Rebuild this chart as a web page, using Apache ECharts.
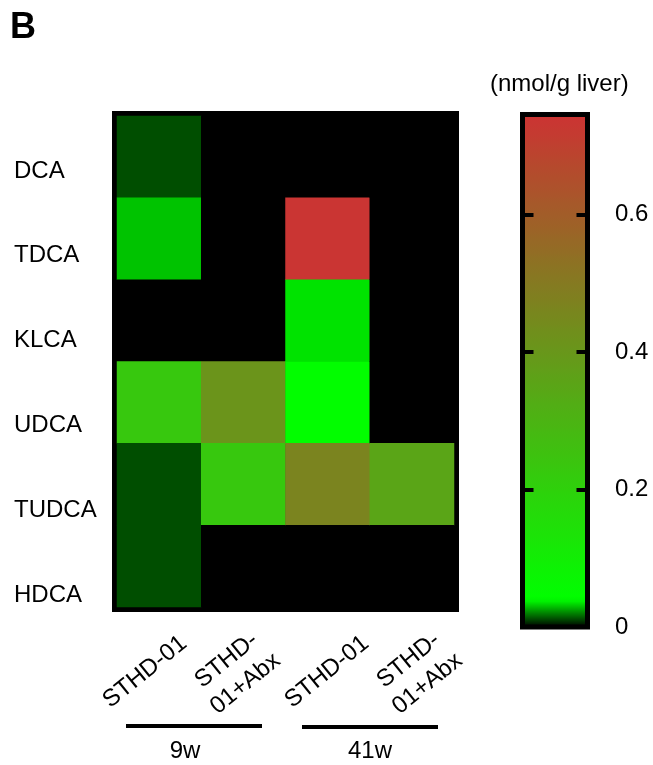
<!DOCTYPE html>
<html>
<head>
<meta charset="utf-8">
<script src="https://cdn.jsdelivr.net/npm/echarts@6/dist/echarts.min.js"></script>
<style>
html,body{margin:0;padding:0;background:#fff;}
#chart{width:653px;height:765px;}
</style>
</head>
<body>
<div id="chart"></div>
<script>
// ---- data ----
const panelLabel = 'B';
const unitLabel = '(nmol/g liver)';
const rowLabels = ['DCA', 'TDCA', 'KLCA', 'UDCA', 'TUDCA', 'HDCA'];
const colLabels = ['STHD-01', 'STHD-\n01+Abx', 'STHD-01', 'STHD-\n01+Abx'];
const groupLabels = ['9w', '41w'];
// values per column (rows in rowLabels order), nmol/g liver
const sthd9w    = [0.012, 0.030, 0.000, 0.230, 0.012, 0.012];
const sthdAbx9w = [0.000, 0.000, 0.000, 0.410, 0.230, 0.000];
const sthd41w   = [0.000, 0.740, 0.035, 0.045, 0.465, 0.000];
const sthdAbx41w= [0.000, 0.000, 0.000, 0.000, 0.350, 0.000];
const scaleMin = 0;
const scaleMax = 0.746;
const scaleStep = 0.2;

// ---- build ----
const columns = [sthd9w, sthdAbx9w, sthd41w, sthdAbx41w];
const heatData = [];
columns.forEach((col, c) => col.forEach((v, r) => heatData.push([c, r, v])));

// colour ramp: black -> bright green at first stop, then linear green -> red
function hex(n){ return ('0' + Math.round(n).toString(16)).slice(-2); }
const ramp = ['#000000'];
const segs = 18;
for (let i = 0; i <= segs; i++) {
  const t = i / segs;
  ramp.push('#' + hex(0 + t * 204) + hex(255 - t * 204) + hex(0 + t * 51));
}

const FONT = "'Liberation Sans', Arial, Helvetica, sans-serif";
const chart = echarts.init(document.getElementById('chart'), null, {renderer: 'canvas'});

const option = {
  backgroundColor: '#ffffff',
  animation: false,
  textStyle: {fontFamily: FONT, color: '#000'},
  title: [
    {text: panelLabel, left: 10, top: 10, padding: 0,
     textStyle: {fontFamily: FONT, fontSize: 36, fontWeight: 'bold', color: '#000'}},
    {text: unitLabel, left: 490, top: 72, padding: 0,
     textStyle: {fontFamily: FONT, fontSize: 24, fontWeight: 'normal', color: '#000'}}
  ],
  grid: [
    {left: 117, top: 116, width: 337, height: 491, show: true,
     backgroundColor: '#000', borderColor: '#000', borderWidth: 10},
    {left: 99.5, top: 116, width: 364, height: 491, show: false},
    {left: 100, top: 128.6, width: 10, height: 508.8, show: false},
    {left: 522.5, top: 114.5, width: 65, height: 512.5, show: true, z: 10,
     backgroundColor: 'transparent', borderColor: '#000', borderWidth: 5}
  ],
  xAxis: [
    {gridIndex: 0, type: 'category', data: colLabels, show: false},
    {gridIndex: 1, type: 'category', data: colLabels,
     axisLine: {show: false}, axisTick: {show: false}, splitLine: {show: false},
     axisLabel: {interval: 0, rotate: 39, margin: 65, fontSize: 24, lineHeight: 30,
                 align: 'center', verticalAlign: 'middle',
                 fontFamily: FONT, color: '#000'}},
    {gridIndex: 2, type: 'value', show: false},
    {gridIndex: 3, type: 'value', show: false}
  ],
  yAxis: [
    {gridIndex: 0, type: 'category', data: rowLabels, inverse: true, show: false},
    {gridIndex: 1, type: 'value', show: false},
    {gridIndex: 2, type: 'category', data: rowLabels, inverse: true,
     axisLine: {show: false}, axisTick: {show: false}, splitLine: {show: false},
     axisLabel: {interval: 0, align: 'left', margin: 86, fontSize: 24,
                 fontFamily: FONT, color: '#000'}},
    {gridIndex: 3, type: 'value', min: scaleMin, max: scaleMax, interval: scaleStep,
     position: 'left', z: 11,
     axisLine: {show: false}, splitLine: {show: false}, axisLabel: {show: false},
     axisTick: {show: true, inside: true, length: 11, lineStyle: {color: '#000', width: 4}}},
    {gridIndex: 3, type: 'value', min: scaleMin, max: scaleMax, interval: scaleStep,
     position: 'right', z: 11,
     axisLine: {show: false}, splitLine: {show: false},
     axisTick: {show: true, inside: true, length: 11, lineStyle: {color: '#000', width: 4}},
     axisLabel: {show: true, margin: 27.5, fontSize: 24, fontFamily: FONT, color: '#000',
                 showMaxLabel: false}}
  ],
  visualMap: {
    type: 'continuous',
    seriesIndex: 0,
    min: scaleMin, max: scaleMax,
    calculable: false,
    orient: 'vertical',
    left: 522.5, top: 114.5,
    itemWidth: 65, itemHeight: 512.5,
    padding: 0,
    text: null,
    inRange: {color: ramp},
    z: 4
  },
  series: [{
    type: 'heatmap',
    xAxisIndex: 0, yAxisIndex: 0,
    data: heatData,
    itemStyle: {borderWidth: 0},
    emphasis: {disabled: true}
  }],
  graphic: [
    {type: 'line', shape: {x1: 126, y1: 726, x2: 262, y2: 726}, style: {stroke: '#000', lineWidth: 4}},
    {type: 'line', shape: {x1: 302, y1: 727, x2: 438, y2: 727}, style: {stroke: '#000', lineWidth: 4}},
    {type: 'text', x: 185, y: 751, style: {text: groupLabels[0], fontSize: 24, fontFamily: FONT,
      fill: '#000', align: 'center', verticalAlign: 'middle'}},
    {type: 'text', x: 370, y: 751, style: {text: groupLabels[1], fontSize: 24, fontFamily: FONT,
      fill: '#000', align: 'center', verticalAlign: 'middle'}}
  ]
};
chart.setOption(option);
</script>
</body>
</html>
